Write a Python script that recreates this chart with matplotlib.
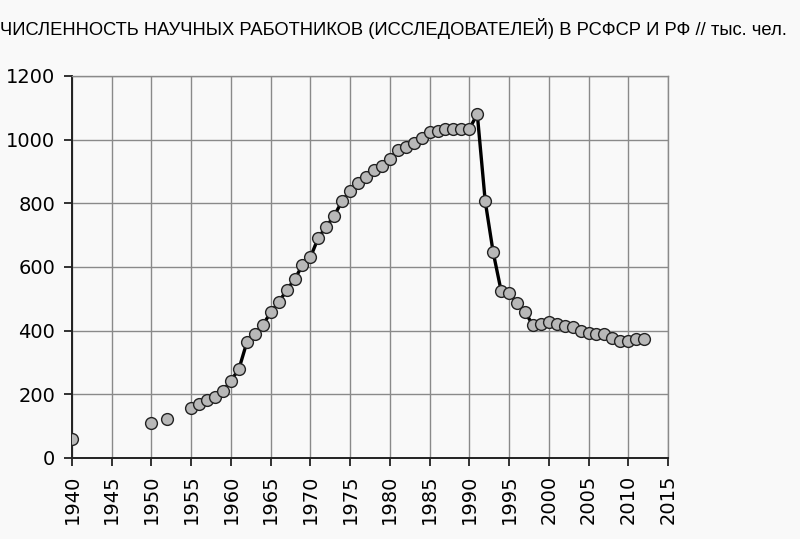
import numpy as np
import pandas as pd
import matplotlib
matplotlib.use('Agg')
import matplotlib.pyplot as plt

# численность исследователей, тыс. чел.
years = [1940, 1950, 1952] + list(range(1955, 2013))
values = [60, 111, 123,
          156, 168, 183, 193, 210, 243, 279, 363, 390, 417,
          457, 489, 526, 561, 605, 630, 692, 726, 761, 807,
          838, 864, 881, 904, 917, 940, 967, 977, 988, 1004,
          1023, 1028, 1032, 1033, 1033, 1033, 1080, 806, 646, 525,
          519, 486, 458, 418, 422, 428, 420, 416, 410, 399,
          391, 389, 389, 378, 366, 368, 373, 375]
x_ticks = list(range(1940, 2016, 5))
y_ticks = list(range(0, 1201, 200))
title = 'ЧИСЛЕННОСТЬ НАУЧНЫХ РАБОТНИКОВ (ИССЛЕДОВАТЕЛЕЙ) В РСФСР И РФ // тыс. чел.'

# пропущенные годы -> NaN, чтобы линия рвалась
s = pd.Series(values, index=years).reindex(range(1940, 2013))

plt.rcParams['font.family'] = ['DejaVu Sans']

bg = '#f9f9f9'
fig = plt.figure(figsize=(8, 5.39), dpi=100, facecolor=bg)
ax = fig.add_axes([0.09, 0.1503, 0.745, 0.709])
ax.set_facecolor(bg)

ax.plot(s.index, s.values, color='black', lw=2.4, marker='o', ms=8.5,
        mfc='#b8b8b8', mec='#222222', mew=1.0, zorder=3)

ax.set_xlim(1940, 2015)
ax.set_ylim(0, 1200)
ax.set_xticks(x_ticks)
ax.set_yticks(y_ticks)
ax.set_xticklabels([str(t) for t in x_ticks], rotation=90, fontsize=14)
ax.set_yticklabels([str(t) for t in y_ticks], fontsize=14)
ax.tick_params(direction='out', length=6, width=1.3, color='#222222', pad=6)
ax.grid(True, color='#8a8a8a', lw=1.0)
ax.set_axisbelow(True)
for side in ['top', 'right']:
    ax.spines[side].set_color('#8a8a8a')
    ax.spines[side].set_linewidth(1.0)
for side in ['left', 'bottom']:
    ax.spines[side].set_color('#222222')
    ax.spines[side].set_linewidth(1.4)

fig.text(0.0, 0.948, title, fontsize=13.2, family=['Liberation Sans', 'DejaVu Sans'],
         va='center', ha='left')

plt.savefig('out.png', dpi=100, facecolor=bg)
